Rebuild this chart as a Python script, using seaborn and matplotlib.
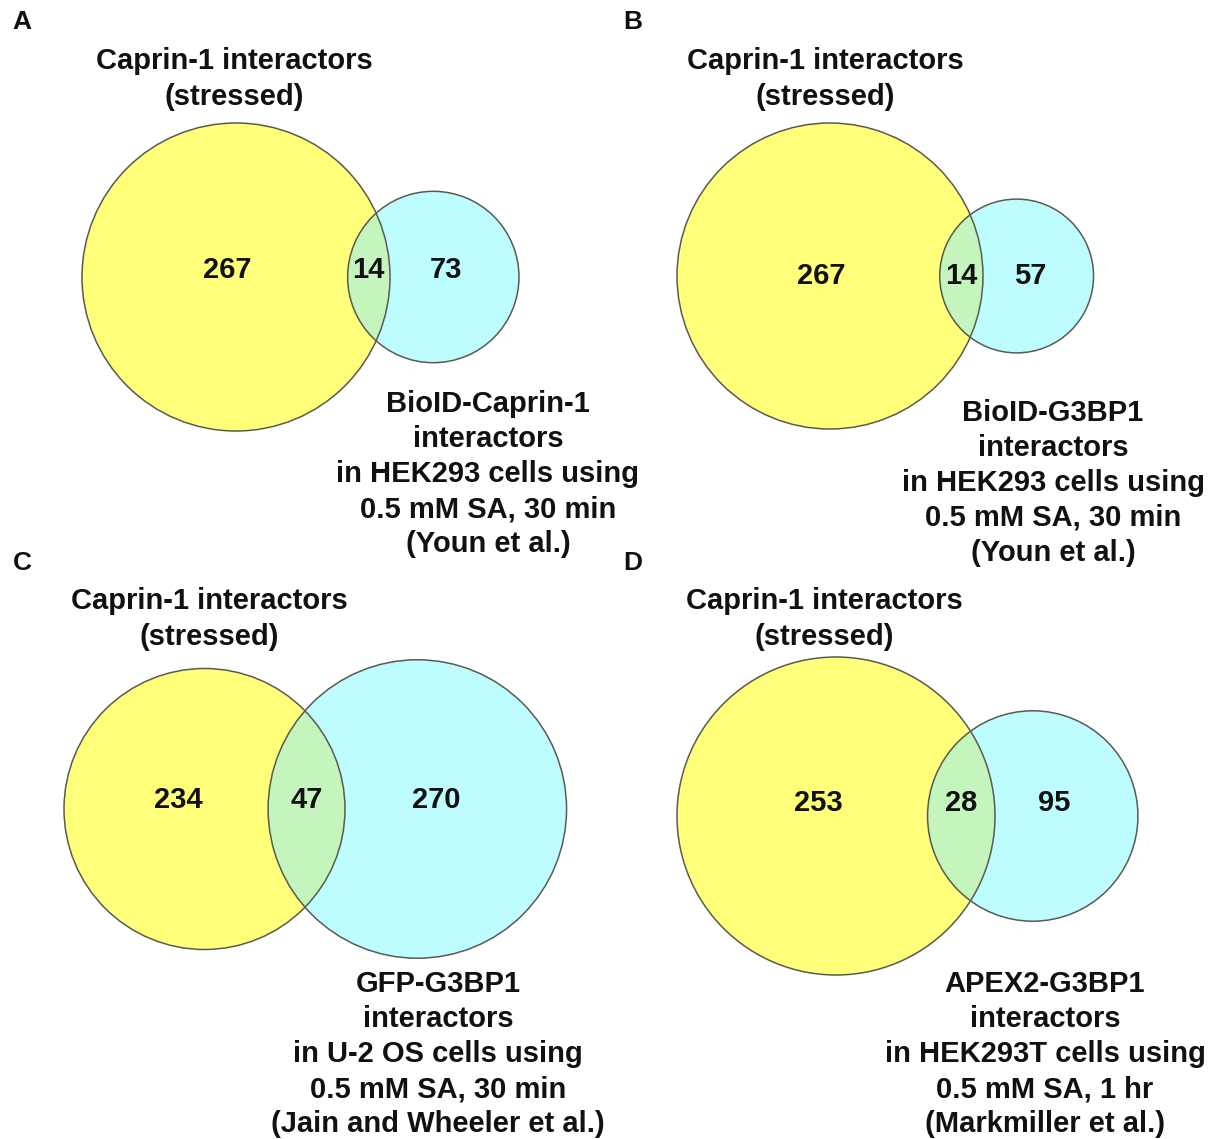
import numpy as np
import seaborn as sns
import matplotlib.pyplot as plt
from matplotlib.patches import Circle

# Venn counts per panel: Caprin-1 only, shared, other set only
panels = ["A", "B", "C", "D"]
caprin_only = [267, 267, 234, 253]
shared = [14, 14, 47, 28]
other_only = [73, 57, 270, 95]

caprin_label = "Caprin-1 interactors\n(stressed)"
other_labels = [
    "BioID-Caprin-1\ninteractors\nin HEK293 cells using\n0.5 mM SA, 30 min\n(Youn et al.)",
    "BioID-G3BP1\ninteractors\nin HEK293 cells using\n0.5 mM SA, 30 min\n(Youn et al.)",
    "GFP-G3BP1\ninteractors\nin U-2 OS cells using\n0.5 mM SA, 30 min\n(Jain and Wheeler et al.)",
    "APEX2-G3BP1\ninteractors\nin HEK293T cells using\n0.5 mM SA, 1 hr\n(Markmiller et al.)",
]

# layout (figure pixels)
W, H = 1213, 1139
yellow_center = [(236, 277), (830, 276), (204.5, 809), (836, 816)]
yellow_radius_px = [154, 153, 140.5, 159]
number_dy = [-7, 0, -9, -13]
title_pos = [(234.5, 79), (825.5, 79), (209.5, 619), (824.5, 619)]
other_pos = [(488, 404), (1053, 413), (438, 984), (1045, 984)]  # first line
line_pitch = 35
letter_pos = [(22, 22), (633, 22), (22, 563), (633, 563)]

YELLOW = "#FFFF7A"
CYAN = "#BEFDFF"
GREEN = "#C3F5BC"
EDGE = "#5a5a50"


def lens_area(d, r1, r2):
    if d >= r1 + r2:
        return 0.0
    if d <= abs(r1 - r2):
        return np.pi * min(r1, r2) ** 2
    a1 = r1 ** 2 * np.arccos((d ** 2 + r1 ** 2 - r2 ** 2) / (2 * d * r1))
    a2 = r2 ** 2 * np.arccos((d ** 2 + r2 ** 2 - r1 ** 2) / (2 * d * r2))
    k = 0.5 * np.sqrt((-d + r1 + r2) * (d + r1 - r2) * (d - r1 + r2) * (d + r1 + r2))
    return a1 + a2 - k


def solve_distance(r1, r2, target):
    lo, hi = abs(r1 - r2), r1 + r2
    for _ in range(100):
        mid = (lo + hi) / 2
        if lens_area(mid, r1, r2) > target:
            lo = mid
        else:
            hi = mid
    return (lo + hi) / 2


sns.set_theme(style="white")
plt.rcParams['font.family'] = ['Liberation Sans', 'DejaVu Sans']

fig = plt.figure(figsize=(W / 100, H / 100), dpi=100)
ax = fig.add_axes([0, 0, 1, 1])
ax.set_xlim(0, W)
ax.set_ylim(H, 0)
ax.axis("off")

txt = dict(fontsize=21, fontweight="bold", color="#111111", ha="center", va="center")

for i in range(len(panels)):
    n1 = caprin_only[i] + shared[i]
    n2 = other_only[i] + shared[i]
    r1 = np.sqrt(n1 / np.pi)
    r2 = np.sqrt(n2 / np.pi)
    d = solve_distance(r1, r2, shared[i])

    # scale count units to pixels
    s = yellow_radius_px[i] / r1
    cx1, cy = yellow_center[i]
    R1, R2, D = r1 * s, r2 * s, d * s
    cx2 = cx1 + D

    c1 = Circle((cx1, cy), R1, facecolor=YELLOW, edgecolor="none")
    c2 = Circle((cx2, cy), R2, facecolor=CYAN, edgecolor="none")
    ax.add_patch(c1)
    ax.add_patch(c2)
    lens = Circle((cx1, cy), R1, facecolor=GREEN, edgecolor="none")
    ax.add_patch(lens)
    lens.set_clip_path(c2)
    for cx, r in [(cx1, R1), (cx2, R2)]:
        ax.add_patch(Circle((cx, cy), r, fill=False, edgecolor=EDGE, linewidth=1.1))

    # subset count labels
    lens_x = ((cx2 - R2) + (cx1 + R1)) / 2
    f1 = shared[i] / n1
    f2 = shared[i] / n2
    x_only1 = cx1 - 1.3 * f1 * (lens_x - cx1) / (1 - f1)
    x_only2 = cx2 - f2 * (lens_x - cx2) / (1 - f2)
    y = cy + number_dy[i]
    ax.text(x_only1, y, str(caprin_only[i]), **txt)
    ax.text(lens_x, y, str(shared[i]), **txt)
    ax.text(x_only2, y, str(other_only[i]), **txt)

    ax.text(*title_pos[i], caprin_label, linespacing=1.36, **txt)
    ox, oy = other_pos[i]
    for k, line in enumerate(other_labels[i].split("\n")):
        ax.text(ox, oy + k * line_pitch, line, **txt)
    ax.text(*letter_pos[i], panels[i], fontsize=19, fontweight="bold",
            color="#111111", ha="center", va="center")

fig.savefig("out.png", dpi=100)
